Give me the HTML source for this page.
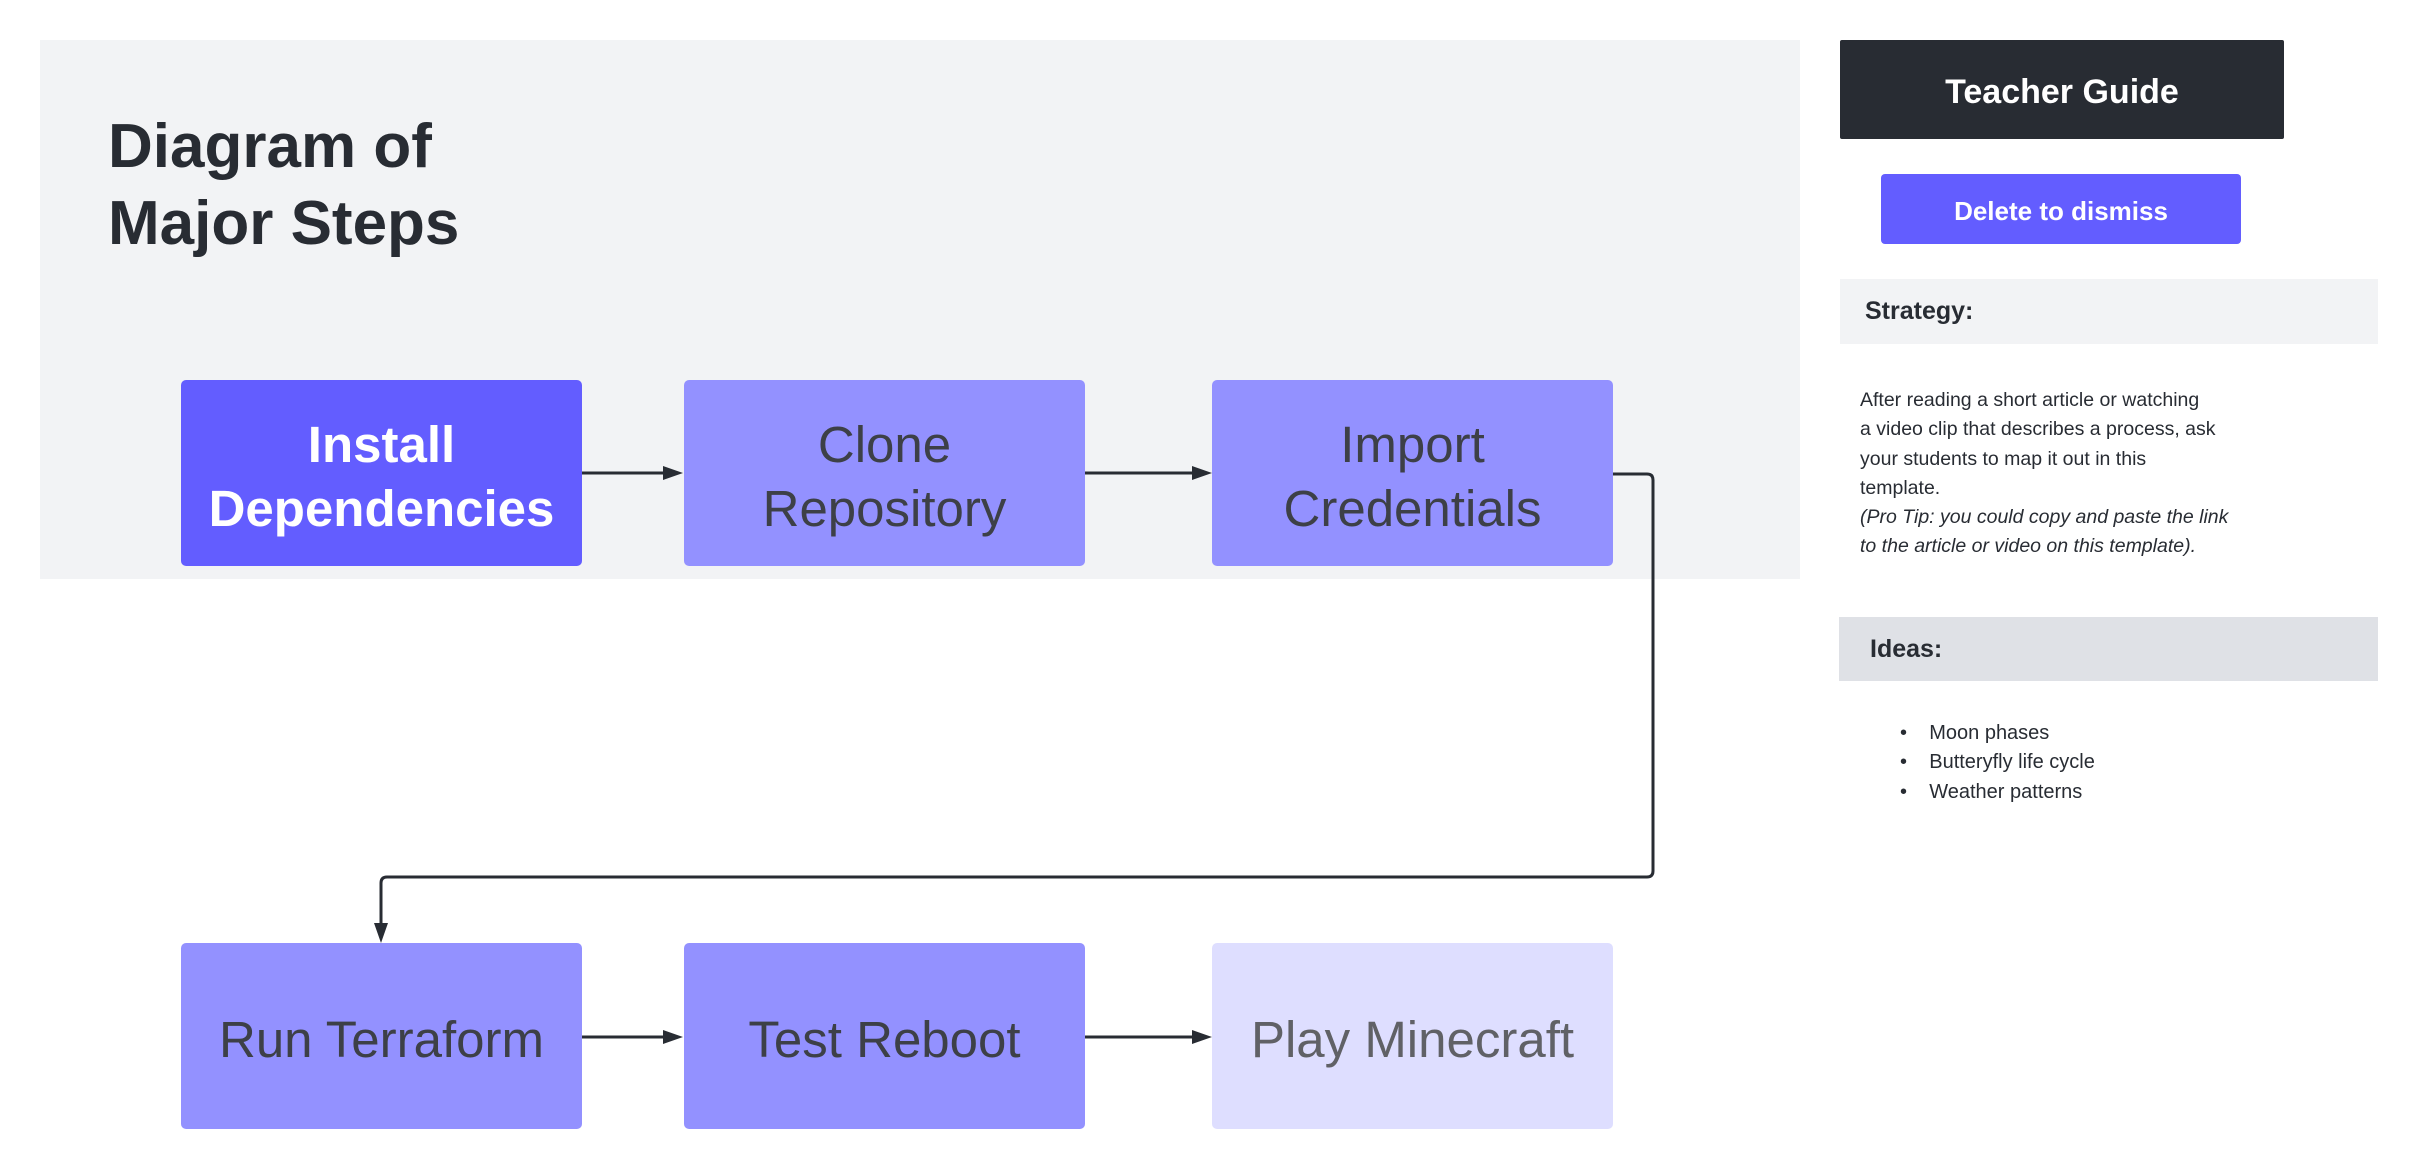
<!DOCTYPE html>
<html><head><meta charset="utf-8"><style>
body{margin:0;width:2420px;height:1172px;background:#fff;position:relative;overflow:hidden;font-family:"Liberation Sans",sans-serif;}
.a{position:absolute;}
.box{position:absolute;width:401px;height:186px;box-sizing:border-box;padding-top:8px;border-radius:5px;display:flex;align-items:center;justify-content:center;text-align:center;font-size:51px;line-height:64px;color:#3d4047;}
.p{background:#9391ff;}
</style></head><body>
<div class="a" style="left:40px;top:40px;width:1760px;height:539px;background:#f2f3f5"></div>
<div class="a" style="left:108px;top:108px;font-size:62px;line-height:77px;font-weight:bold;color:#282c33">Diagram of<br>Major Steps</div>
<svg class="a" style="left:0;top:0" width="2420" height="1172">
<g stroke="#282c33" stroke-width="3" fill="none">
<line x1="582" y1="473" x2="665" y2="473"/>
<line x1="1085" y1="473" x2="1195" y2="473"/>
<path d="M1613 474 H1647 Q1653 474 1653 480 V871 Q1653 877 1647 877 H387 Q381 877 381 883 V925"/>
<line x1="582" y1="1037" x2="665" y2="1037"/>
<line x1="1085" y1="1037" x2="1195" y2="1037"/>
</g>
<g fill="#282c33">
<polygon points="683,473 663,466 663,480"/>
<polygon points="1212,473 1192,466 1192,480"/>
<polygon points="381,943 374,923 388,923"/>
<polygon points="683,1037 663,1030 663,1044"/>
<polygon points="1212,1037 1192,1030 1192,1044"/>
</g>
</svg>
<div class="box" style="left:181px;top:380px;background:#635dff;color:#fff;font-weight:bold">Install<br>Dependencies</div>
<div class="box p" style="left:684px;top:380px">Clone<br>Repository</div>
<div class="box p" style="left:1212px;top:380px">Import<br>Credentials</div>
<div class="box p" style="left:181px;top:943px">Run Terraform</div>
<div class="box p" style="left:684px;top:943px">Test Reboot</div>
<div class="box" style="left:1212px;top:943px;background:#dedeff;color:#606166">Play Minecraft</div>

<div class="a" style="left:1840px;top:40px;width:444px;height:99px;background:#282c33;border-radius:2px;color:#fff;font-weight:bold;font-size:34px;line-height:104px;text-align:center">Teacher Guide</div>
<div class="a" style="left:1881px;top:174px;width:360px;height:70px;background:#635dff;border-radius:4px;color:#fff;font-weight:bold;font-size:26px;line-height:74px;text-align:center">Delete to dismiss</div>
<div class="a" style="left:1840px;top:279px;width:538px;height:65px;background:#f2f3f5"></div>
<div class="a" style="left:1865px;top:279px;font-size:25px;line-height:65px;font-weight:bold;color:#282c33">Strategy:</div>
<div class="a" style="left:1860px;top:386px;white-space:nowrap;font-size:19.5px;line-height:29.3px;color:#282c33">After reading a short article or watching<br>a video clip that describes a process, ask<br>your students to map it out in this<br>template.<br><i>(Pro Tip: you could copy and paste the link<br>to the article or video on this template).</i></div>
<div class="a" style="left:1839px;top:617px;width:539px;height:64px;background:#dfe1e6"></div>
<div class="a" style="left:1870px;top:617px;font-size:25px;line-height:64px;font-weight:bold;color:#282c33">Ideas:</div>
<div class="a" style="left:1900px;top:719px;font-size:20px;line-height:29.3px;color:#282c33">
<div>•&nbsp;&nbsp;&nbsp;&nbsp;Moon phases</div><div>•&nbsp;&nbsp;&nbsp;&nbsp;Butteryfly life cycle</div><div>•&nbsp;&nbsp;&nbsp;&nbsp;Weather patterns</div></div>
</body></html>
